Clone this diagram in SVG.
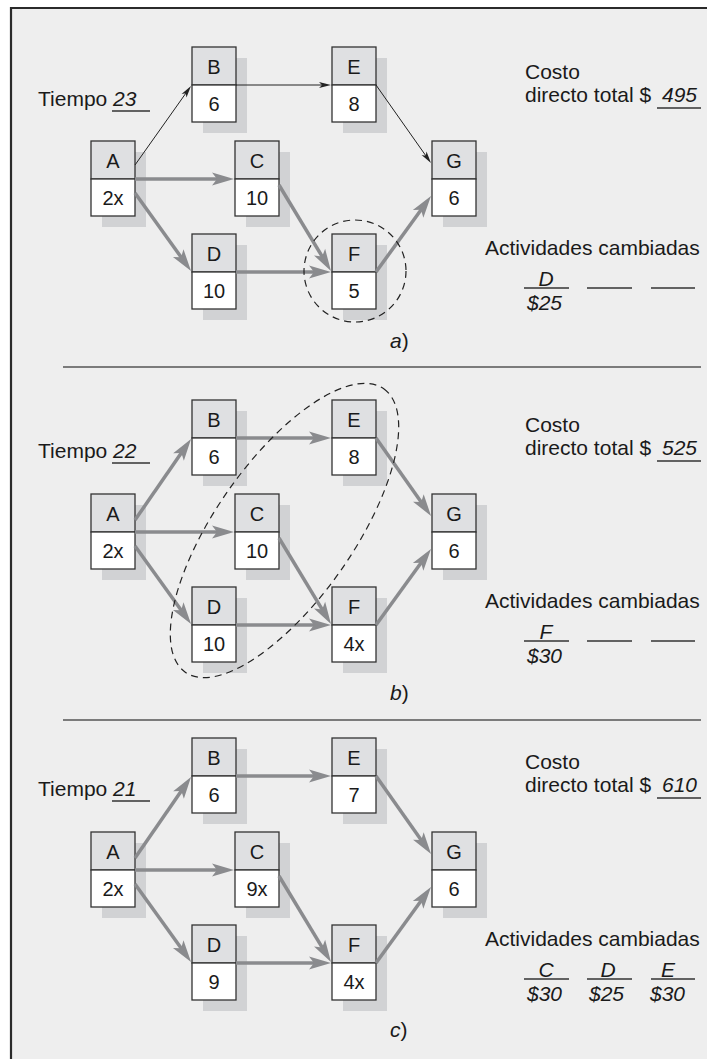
<svg xmlns="http://www.w3.org/2000/svg" width="707" height="1059" viewBox="0 0 707 1059">
<style>
.bg{fill:#eeeeee}
.frame{stroke:#2a2a2a;stroke-width:2.2;fill:none}
.sep{stroke:#555;stroke-width:1.5}
.hdr{fill:#dfe0e2;stroke:#333;stroke-width:1.3}
.val{fill:#ffffff;stroke:#333;stroke-width:1.3}
.shd{fill:#d1d2d4}
.t{font-family:"Liberation Sans",Arial,sans-serif;font-size:21px;fill:#1a1a1a}
.nt{font-family:"Liberation Sans",Arial,sans-serif;font-size:20px;fill:#1a1a1a;text-anchor:middle}
.it{font-style:italic}
.mid{text-anchor:middle}
.ul{stroke:#333;stroke-width:1.3}
.g{stroke:#8a8b8e;stroke-width:3.5;fill:none;marker-end:url(#ag)}
.k{stroke:#222;stroke-width:1;fill:none;marker-end:url(#ak)}
.dash{fill:none;stroke:#222;stroke-width:1.2;stroke-dasharray:7 5}
</style>
<defs>
<marker id="ag" viewBox="0 0 22 13" markerWidth="22" markerHeight="13" refX="7" refY="6.5" orient="auto" markerUnits="userSpaceOnUse" overflow="visible">
<path d="M0,0 L22,6.5 L0,13 L5,6.5 Z" fill="#8a8b8e"/>
</marker>
<marker id="ak" viewBox="0 0 12 6" markerWidth="12" markerHeight="6" refX="6" refY="3" orient="auto" markerUnits="userSpaceOnUse" overflow="visible">
<path d="M0,0 L12,3 L0,6 L3,3 Z" fill="#222"/>
</marker>
</defs>
<rect x="0" y="0" width="707" height="1059" fill="#ffffff"/>
<rect class="bg" x="11" y="8" width="696" height="1051"/>
<path class="frame" d="M11,1059 L11,8 L707,8"/>
<line class="sep" x1="63" y1="367" x2="701" y2="367"/>
<line class="sep" x1="63" y1="720" x2="701" y2="720"/>

<!-- Section a -->
<g id="section-a">
<g id="a-A"><rect class="shd" x="102" y="152" width="44" height="75"/><rect class="hdr" x="91" y="141" width="44" height="38"/><rect class="val" x="91" y="179" width="44" height="37"/><text class="nt" x="113" y="167.5">A</text><text class="nt" x="113" y="205">2x</text></g>
<g id="a-B"><rect class="shd" x="203" y="58" width="44" height="75"/><rect class="hdr" x="192" y="47" width="44" height="38"/><rect class="val" x="192" y="85" width="44" height="37"/><text class="nt" x="214" y="73.5">B</text><text class="nt" x="214" y="111">6</text></g>
<g id="a-C"><rect class="shd" x="246" y="152" width="44" height="75"/><rect class="hdr" x="235" y="141" width="44" height="38"/><rect class="val" x="235" y="179" width="44" height="37"/><text class="nt" x="257" y="167.5">C</text><text class="nt" x="257" y="205">10</text></g>
<g id="a-D"><rect class="shd" x="203" y="245" width="44" height="75"/><rect class="hdr" x="192" y="234" width="44" height="38"/><rect class="val" x="192" y="272" width="44" height="37"/><text class="nt" x="214" y="260.5">D</text><text class="nt" x="214" y="298">10</text></g>
<g id="a-E"><rect class="shd" x="343" y="58" width="44" height="75"/><rect class="hdr" x="332" y="47" width="44" height="38"/><rect class="val" x="332" y="85" width="44" height="37"/><text class="nt" x="354" y="73.5">E</text><text class="nt" x="354" y="111">8</text></g>
<g id="a-F"><rect class="shd" x="343" y="245" width="44" height="75"/><rect class="hdr" x="332" y="234" width="44" height="38"/><rect class="val" x="332" y="272" width="44" height="37"/><text class="nt" x="354" y="260.5">F</text><text class="nt" x="354" y="298">5</text></g>
<g id="a-G"><rect class="shd" x="443" y="152" width="44" height="75"/><rect class="hdr" x="432" y="141" width="44" height="38"/><rect class="val" x="432" y="179" width="44" height="37"/><text class="nt" x="454" y="167.5">G</text><text class="nt" x="454" y="205">6</text></g>
<g id="a-connectors">
<path class="k" d="M135,165 L187.5,90.9"/>
<path class="k" d="M236,85 L325,85"/>
<path class="k" d="M376,85 L427.5,158.1"/>
<path class="g" d="M135,179 L219,179"/>
<path class="g" d="M135,193 L182.3,258.8"/>
<path class="g" d="M279,185 L323.2,258.2"/>
<path class="g" d="M236,272 L316,272"/>
<path class="g" d="M376,272 L422.2,208.2"/>
</g>
<circle class="dash" cx="355" cy="271" r="51"/>
<g id="a-labels">
<text class="t" x="38" y="106">Tiempo <tspan class="it">23</tspan></text>
<line class="ul" x1="112" y1="111" x2="150" y2="111"/>
<text class="t" x="525" y="79">Costo</text>
<text class="t" x="525" y="102">directo total $</text>
<text class="t it" x="662" y="102">495</text>
<line class="ul" x1="657" y1="108" x2="701" y2="108"/>
<text class="t" x="485" y="255">Actividades cambiadas</text>
<text class="t it mid" x="546" y="285.5">D</text>
<line class="ul" x1="524" y1="288" x2="569" y2="288"/>
<text class="t it" x="527" y="309.5">$25</text>
<line class="ul" x1="587" y1="288" x2="632" y2="288"/>
<line class="ul" x1="651" y1="288" x2="695" y2="288"/>
<text class="t" x="390" y="348"><tspan class="it">a</tspan>)</text>
</g>
</g>

<!-- Section b -->
<g id="section-b" transform="translate(0,353)">
<g id="b-A"><rect class="shd" x="102" y="152" width="44" height="75"/><rect class="hdr" x="91" y="141" width="44" height="38"/><rect class="val" x="91" y="179" width="44" height="37"/><text class="nt" x="113" y="167.5">A</text><text class="nt" x="113" y="205">2x</text></g>
<g id="b-B"><rect class="shd" x="203" y="58" width="44" height="75"/><rect class="hdr" x="192" y="47" width="44" height="38"/><rect class="val" x="192" y="85" width="44" height="37"/><text class="nt" x="214" y="73.5">B</text><text class="nt" x="214" y="111">6</text></g>
<g id="b-C"><rect class="shd" x="246" y="152" width="44" height="75"/><rect class="hdr" x="235" y="141" width="44" height="38"/><rect class="val" x="235" y="179" width="44" height="37"/><text class="nt" x="257" y="167.5">C</text><text class="nt" x="257" y="205">10</text></g>
<g id="b-D"><rect class="shd" x="203" y="245" width="44" height="75"/><rect class="hdr" x="192" y="234" width="44" height="38"/><rect class="val" x="192" y="272" width="44" height="37"/><text class="nt" x="214" y="260.5">D</text><text class="nt" x="214" y="298">10</text></g>
<g id="b-E"><rect class="shd" x="343" y="58" width="44" height="75"/><rect class="hdr" x="332" y="47" width="44" height="38"/><rect class="val" x="332" y="85" width="44" height="37"/><text class="nt" x="354" y="73.5">E</text><text class="nt" x="354" y="111">8</text></g>
<g id="b-F"><rect class="shd" x="343" y="245" width="44" height="75"/><rect class="hdr" x="332" y="234" width="44" height="38"/><rect class="val" x="332" y="272" width="44" height="37"/><text class="nt" x="354" y="260.5">F</text><text class="nt" x="354" y="298">4x</text></g>
<g id="b-G"><rect class="shd" x="443" y="152" width="44" height="75"/><rect class="hdr" x="432" y="141" width="44" height="38"/><rect class="val" x="432" y="179" width="44" height="37"/><text class="nt" x="454" y="167.5">G</text><text class="nt" x="454" y="205">6</text></g>
<g id="b-connectors">
<path class="g" d="M135,167 L182.5,98.3"/>
<path class="g" d="M236,85 L316,85"/>
<path class="g" d="M376,85 L422.4,150.7"/>
<path class="g" d="M135,179 L219,179"/>
<path class="g" d="M135,193 L182.3,258.8"/>
<path class="g" d="M279,185 L323.2,258.2"/>
<path class="g" d="M236,272 L316,272"/>
<path class="g" d="M376,272 L422.2,208.2"/>
</g>
<ellipse class="dash" cx="0" cy="0" rx="173" ry="69" transform="translate(284.5,177.5) rotate(-55)"/>
<g id="b-labels">
<text class="t" x="38" y="105">Tiempo <tspan class="it">22</tspan></text>
<line class="ul" x1="112" y1="110" x2="150" y2="110"/>
<text class="t" x="525" y="79">Costo</text>
<text class="t" x="525" y="102">directo total $</text>
<text class="t it" x="662" y="102">525</text>
<line class="ul" x1="657" y1="108" x2="701" y2="108"/>
<text class="t" x="485" y="255">Actividades cambiadas</text>
<text class="t it mid" x="546" y="285.5">F</text>
<line class="ul" x1="524" y1="288" x2="569" y2="288"/>
<text class="t it" x="527" y="309.5">$30</text>
<line class="ul" x1="587" y1="288" x2="632" y2="288"/>
<line class="ul" x1="651" y1="288" x2="695" y2="288"/>
<text class="t" x="390" y="347"><tspan class="it">b</tspan>)</text>
</g>
</g>

<!-- Section c -->
<g id="section-c" transform="translate(0,691)">
<g id="c-A"><rect class="shd" x="102" y="152" width="44" height="75"/><rect class="hdr" x="91" y="141" width="44" height="38"/><rect class="val" x="91" y="179" width="44" height="37"/><text class="nt" x="113" y="167.5">A</text><text class="nt" x="113" y="205">2x</text></g>
<g id="c-B"><rect class="shd" x="203" y="58" width="44" height="75"/><rect class="hdr" x="192" y="47" width="44" height="38"/><rect class="val" x="192" y="85" width="44" height="37"/><text class="nt" x="214" y="73.5">B</text><text class="nt" x="214" y="111">6</text></g>
<g id="c-C"><rect class="shd" x="246" y="152" width="44" height="75"/><rect class="hdr" x="235" y="141" width="44" height="38"/><rect class="val" x="235" y="179" width="44" height="37"/><text class="nt" x="257" y="167.5">C</text><text class="nt" x="257" y="205">9x</text></g>
<g id="c-D"><rect class="shd" x="203" y="245" width="44" height="75"/><rect class="hdr" x="192" y="234" width="44" height="38"/><rect class="val" x="192" y="272" width="44" height="37"/><text class="nt" x="214" y="260.5">D</text><text class="nt" x="214" y="298">9</text></g>
<g id="c-E"><rect class="shd" x="343" y="58" width="44" height="75"/><rect class="hdr" x="332" y="47" width="44" height="38"/><rect class="val" x="332" y="85" width="44" height="37"/><text class="nt" x="354" y="73.5">E</text><text class="nt" x="354" y="111">7</text></g>
<g id="c-F"><rect class="shd" x="343" y="245" width="44" height="75"/><rect class="hdr" x="332" y="234" width="44" height="38"/><rect class="val" x="332" y="272" width="44" height="37"/><text class="nt" x="354" y="260.5">F</text><text class="nt" x="354" y="298">4x</text></g>
<g id="c-G"><rect class="shd" x="443" y="152" width="44" height="75"/><rect class="hdr" x="432" y="141" width="44" height="38"/><rect class="val" x="432" y="179" width="44" height="37"/><text class="nt" x="454" y="167.5">G</text><text class="nt" x="454" y="205">6</text></g>
<g id="c-connectors">
<path class="g" d="M135,167 L182.5,98.3"/>
<path class="g" d="M236,85 L316,85"/>
<path class="g" d="M376,85 L422.4,150.7"/>
<path class="g" d="M135,179 L219,179"/>
<path class="g" d="M135,193 L182.3,258.8"/>
<path class="g" d="M279,185 L323.2,258.2"/>
<path class="g" d="M236,272 L316,272"/>
<path class="g" d="M376,272 L422.2,208.2"/>
</g>
<g id="c-labels">
<text class="t" x="38" y="105">Tiempo <tspan class="it">21</tspan></text>
<line class="ul" x1="112" y1="110" x2="150" y2="110"/>
<text class="t" x="525" y="78">Costo</text>
<text class="t" x="525" y="101">directo total $</text>
<text class="t it" x="662" y="101">610</text>
<line class="ul" x1="657" y1="107" x2="701" y2="107"/>
<text class="t" x="485" y="255">Actividades cambiadas</text>
<text class="t it mid" x="546" y="285.5">C</text>
<line class="ul" x1="524" y1="288" x2="569" y2="288"/>
<text class="t it" x="527" y="309.5">$30</text>
<text class="t it mid" x="608" y="285.5">D</text>
<line class="ul" x1="587" y1="288" x2="632" y2="288"/>
<text class="t it" x="589" y="309.5">$25</text>
<text class="t it mid" x="668" y="285.5">E</text>
<line class="ul" x1="651" y1="288" x2="695" y2="288"/>
<text class="t it" x="650" y="309.5">$30</text>
<text class="t" x="390" y="346"><tspan class="it">c</tspan>)</text>
</g>
</g>
</svg>
